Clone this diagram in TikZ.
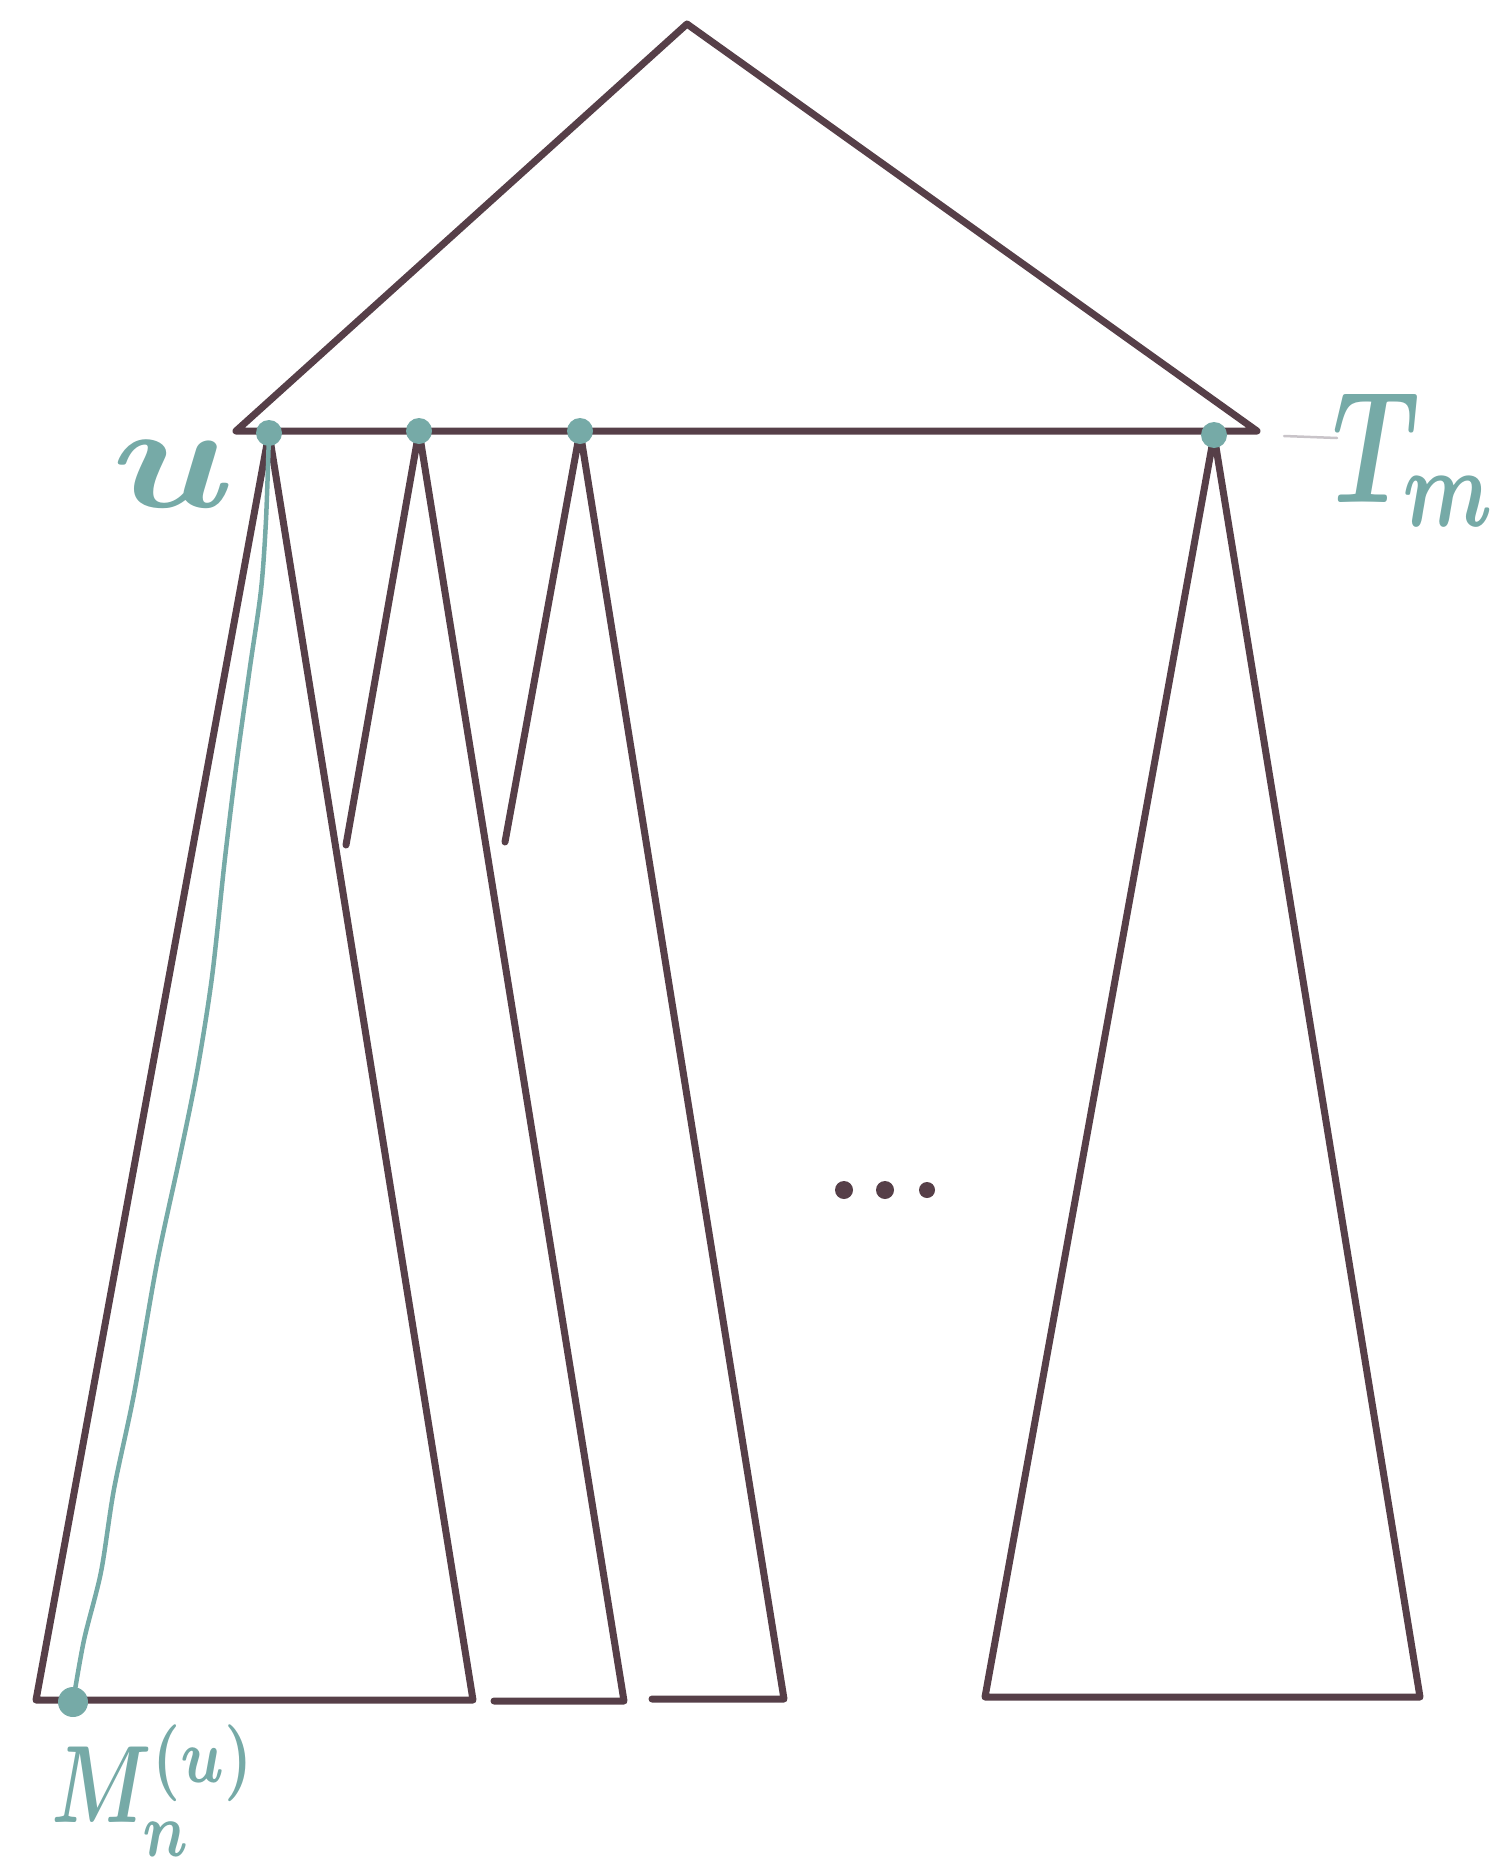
\documentclass[tikz,border=0pt]{standalone}
\definecolor{ink}{HTML}{563F48}
\definecolor{tealc}{HTML}{76AAA7}
\definecolor{greyc}{HTML}{C9C4C9}
\tikzset{
  edge/.style={draw=ink,line width=7pt,line cap=round,line join=round},
  path teal/.style={draw=tealc,line width=4.5pt,line cap=round},
  tdot/.style={circle,fill=tealc,inner sep=0pt,minimum size=26pt},
  idot/.style={circle,fill=ink,inner sep=0pt,minimum size=18pt},
  lbl/.style={text=tealc,inner sep=0pt,font=\boldmath}
}
\begin{document}
\begin{tikzpicture}[x=1pt,y=-1pt]
\useasboundingbox (0,0) rectangle (1507,1868);
% top triangle
\coordinate (apex) at (687,24);
\coordinate (tl) at (236,431);
\coordinate (tr) at (1257,431);
\draw[edge] (tl) -- (apex) -- (tr) -- cycle;
% subtree roots
\coordinate (u) at (269,433);
\coordinate (r2) at (419,431);
\coordinate (r3) at (580,431);
\coordinate (rm) at (1214,435);
% subtree 1
\coordinate (b1l) at (36,1700);
\coordinate (b1r) at (473,1700);
\draw[edge] (b1l) -- (u) -- (b1r) -- cycle;
% subtree 2
\coordinate (s2l) at (346,845);
\coordinate (b2l) at (494,1701);
\coordinate (b2r) at (624,1701);
\draw[edge] (s2l) -- (r2) -- (b2r) -- (b2l);
% subtree 3
\coordinate (s3l) at (505,842);
\coordinate (b3l) at (652,1699);
\coordinate (b3r) at (784,1699);
\draw[edge] (s3l) -- (r3) -- (b3r) -- (b3l);
% last subtree
\coordinate (b4l) at (985,1697);
\coordinate (b4r) at (1420,1697);
\draw[edge] (b4l) -- (rm) -- (b4r) -- cycle;
% teal path
\coordinate (mb) at (73,1702);
\draw[path teal] plot[smooth,tension=0.5] coordinates {(u) (266,520) (261,590) (250,667) (237,760) (225,858) (212,977) (197,1072) (180,1156) (157,1263) (134,1394) (114,1489) (101,1572) (84,1640) (mb)};
% dots
\node[tdot] (du) at (u) {};
\node[tdot] (d2) at (r2) {};
\node[tdot] (d3) at (r3) {};
\node[tdot] (dm) at (rm) {};
\node[tdot,minimum size=30pt] (dmb) at (mb) {};
% ellipsis
\node[idot] (e1) at (844,1190) {};
\node[idot] (e2) at (885,1190) {};
\node[idot,minimum size=16pt] (e3) at (927,1190) {};
% grey tick
\coordinate (g1) at (1284,436);
\coordinate (g2) at (1337,438);
\draw[greyc,line width=2.5pt,line cap=round] (g1) -- (g2);
% labels
\node[lbl,xscale=18,yscale=15] (lu) at (174,474) {$u$};
\node[lbl,xscale=11,yscale=16] (lt) at (1416,460) {$T_m$};
\node[lbl,xscale=8,yscale=11,anchor=base west] (lm) at (50,1822) {$M^{(u)}_{n}$};
\end{tikzpicture}
\end{document}
